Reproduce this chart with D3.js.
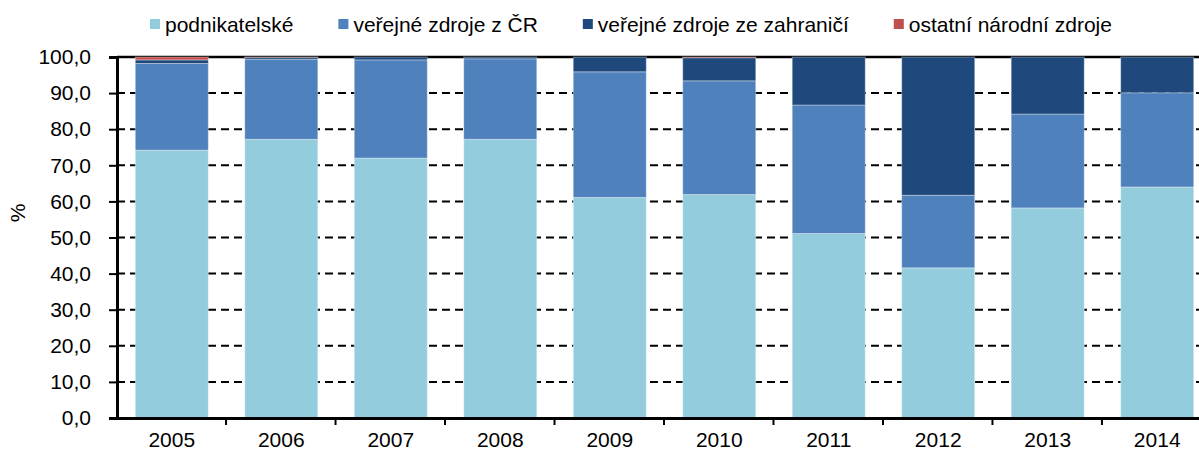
<!DOCTYPE html>
<html>
<head>
<meta charset="utf-8">
<script src="https://cdn.jsdelivr.net/npm/d3@7"></script>
<style>
  body { margin: 0; background: #fff; }
  text { font-family: "Liberation Sans", Arial, sans-serif; fill: #000; }
</style>
</head>
<body>
<div id="chart"></div>
<script>
const years = ["2005", "2006", "2007", "2008", "2009", "2010", "2011", "2012", "2013", "2014"];
const seriesNames = ["podnikatelské", "veřejné zdroje z ČR", "veřejné zdroje ze zahraničí", "ostatní národní zdroje"];
const seriesColors = ["#93cddd", "#4f81bd", "#1f497d", "#c0504d"];

// shares in %
const podnikatelske = [74.2, 77.2, 72.0, 77.2, 61.1, 61.9, 51.1, 41.6, 58.2, 64.0];
const verejneCR     = [24.0, 22.2, 27.2, 22.3, 34.8, 31.5, 35.6, 20.1, 26.0, 26.1];
const verejneZahr   = [1.0, 0.5, 0.8, 0.5, 4.1, 6.4, 13.3, 38.3, 15.8, 9.9];
const ostatni       = [0.8, 0.1, 0.0, 0.0, 0.0, 0.2, 0.0, 0.0, 0.0, 0.0];

const yTicks = [0, 10, 20, 30, 40, 50, 60, 70, 80, 90, 100];

const width = 1199, height = 453;
const margin = { left: 117, top: 57, bottom: 418 };
const fontSize = 21;

const svg = d3.select("#chart").append("svg")
    .attr("width", width)
    .attr("height", height);

const rows = years.map((y, i) => ({
    year: y,
    [seriesNames[0]]: podnikatelske[i],
    [seriesNames[1]]: verejneCR[i],
    [seriesNames[2]]: verejneZahr[i],
    [seriesNames[3]]: ostatni[i]
}));
const stacked = d3.stack().keys(seriesNames)(rows);

const x = d3.scaleBand()
    .domain(years)
    .range([margin.left, 1212])
    .paddingInner(0.333)
    .paddingOuter(0.167);

const y = d3.scaleLinear()
    .domain([0, 100])
    .range([margin.bottom, margin.top]);

const fmt = d => d.toFixed(1).replace(".", ",");

// gridlines (dashed), top one solid
svg.append("g").selectAll("line")
    .data(yTicks.filter(t => t > 0))
    .enter().append("line")
    .attr("x1", margin.left)
    .attr("x2", width)
    .attr("y1", d => y(d))
    .attr("y2", d => y(d))
    .attr("stroke", "#000")
    .attr("stroke-width", d => d === 100 ? 2.5 : 2)
    .attr("stroke-dasharray", d => d === 100 ? null : "8,5");

// bars
svg.append("g").selectAll("g")
    .data(stacked)
    .enter().append("g")
    .attr("fill", (d, i) => seriesColors[i])
    .selectAll("rect")
    .data(d => d)
    .enter().append("rect")
    .attr("x", d => x(d.data.year))
    .attr("width", x.bandwidth())
    .attr("y", d => y(d[1]))
    .attr("height", d => Math.max(0, y(d[0]) - y(d[1])))
    .attr("stroke", "#ffffff")
    .attr("stroke-opacity", 0.35)
    .attr("stroke-width", 1);

// y axis
const yAxis = svg.append("g")
    .attr("transform", `translate(${margin.left},0)`)
    .call(d3.axisLeft(y).tickValues(yTicks).tickFormat(fmt).tickSize(8).tickPadding(18));
yAxis.select(".domain").attr("stroke", "#000").attr("stroke-width", 3);
yAxis.selectAll(".tick line").attr("stroke", "#000").attr("stroke-width", 2);
yAxis.selectAll(".tick text").attr("font-size", fontSize).attr("fill", "#000");

// x axis
const xAxis = svg.append("g")
    .attr("transform", `translate(0,${margin.bottom})`)
    .call(d3.axisBottom(x).tickSize(0).tickPadding(14));
xAxis.select(".domain").attr("stroke", "#000").attr("stroke-width", 3);
xAxis.selectAll(".tick text").attr("font-size", fontSize).attr("fill", "#000");

// category separators on the x axis
const step = x.step();
svg.append("g").selectAll("line")
    .data(years.slice(1))
    .enter().append("line")
    .attr("x1", d => x(d) - x.paddingInner() * step / 2 - 0.5)
    .attr("x2", d => x(d) - x.paddingInner() * step / 2 - 0.5)
    .attr("y1", margin.bottom)
    .attr("y2", margin.bottom + 7)
    .attr("stroke", "#000")
    .attr("stroke-width", 2);

// y label
svg.append("text")
    .attr("transform", "translate(25,213) rotate(-90)")
    .attr("text-anchor", "middle")
    .attr("font-size", fontSize)
    .text("%");

// legend
const legend = svg.append("g");
let lx = 150;
seriesNames.forEach((name, i) => {
    legend.append("rect")
        .attr("x", lx)
        .attr("y", 19)
        .attr("width", 10)
        .attr("height", 10)
        .attr("fill", seriesColors[i]);
    const t = legend.append("text")
        .attr("x", lx + 15)
        .attr("y", 32)
        .attr("font-size", fontSize)
        .text(name);
    lx += 15 + t.node().getComputedTextLength() + 45;
});
</script>
</body>
</html>
